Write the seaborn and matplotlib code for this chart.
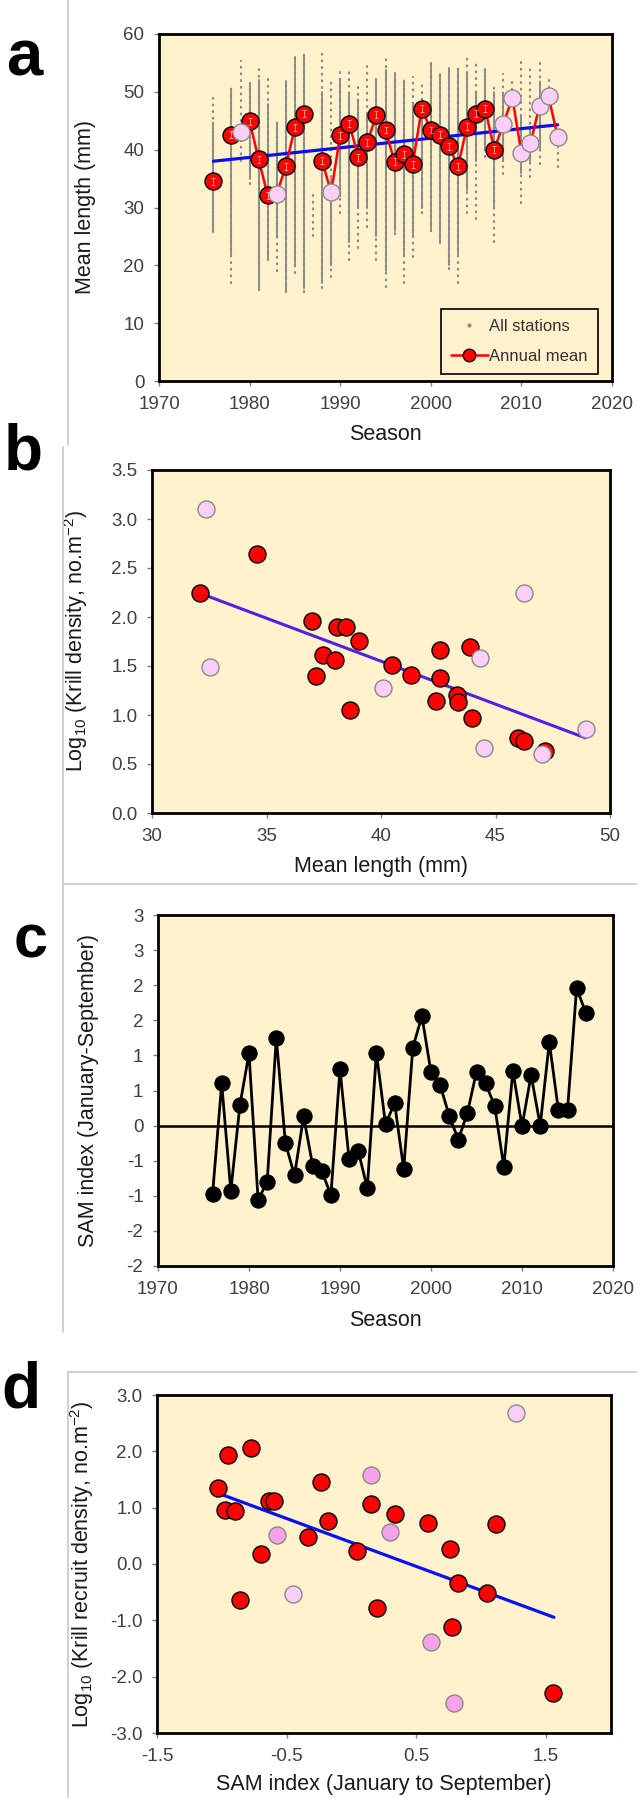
# Figura de 4 paneles: talla media, densidad de krill e indice SAM
import numpy as np
import pandas as pd
import matplotlib
matplotlib.use("Agg")
import matplotlib.pyplot as plt
import seaborn as sns
from matplotlib.lines import Line2D
from matplotlib.ticker import FuncFormatter, FormatStrFormatter, MultipleLocator

# ---------------- Datos panel a ----------------
anios_a = [1976, 1978, 1979, 1980, 1981, 1982, 1983, 1984, 1985, 1986,
           1988, 1989, 1990, 1991, 1992, 1993, 1994, 1995, 1996, 1997,
           1998, 1999, 2000, 2001, 2002, 2003, 2004, 2005, 2006, 2007,
           2008, 2009, 2010, 2011, 2012, 2013, 2014]
media_a = [34.5, 42.6, 43.0, 44.9, 38.3, 32.1, 32.4, 37.1, 43.9, 46.2,
           38.1, 32.6, 42.5, 44.5, 38.7, 41.3, 46.0, 43.4, 37.9, 39.2,
           37.5, 47.1, 43.4, 42.6, 40.6, 37.1, 44.0, 46.2, 47.1, 40.0,
           44.4, 49.0, 39.4, 41.1, 47.6, 49.2, 42.2]
grupo_a = ['r', 'r', 'p', 'r', 'r', 'r', 'p', 'r', 'r', 'r',
           'r', 'p', 'r', 'r', 'r', 'r', 'r', 'r', 'r', 'r',
           'r', 'r', 'r', 'r', 'r', 'r', 'r', 'r', 'r', 'r',
           'p', 'p', 'p', 'p', 'p', 'p', 'p']
tramo_a = [0] + [1] * 9 + [2] * 27
err_a = [0.6] * 37
tend_x_a = [1976, 2014]
tend_y_a = [38.0, 44.3]

# estaciones: rango total (puntos sueltos) y rango denso por temporada
est_anio = [1976, 1978, 1979, 1980, 1981, 1982, 1983, 1984, 1985, 1986,
            1987, 1988, 1989, 1990, 1991, 1992, 1993, 1994, 1995, 1996,
            1997, 1998, 1999, 2000, 2001, 2002, 2003, 2004, 2005, 2006,
            2007, 2008, 2009, 2010, 2011, 2012, 2013, 2014]
est_min = [25.8, 17.0, 38.0, 34.0, 15.7, 21.0, 19.0, 15.4, 18.6, 15.4,
           25.0, 16.0, 18.0, 29.0, 21.0, 23.0, 26.6, 21.0, 16.3, 25.5,
           16.9, 21.5, 29.0, 26.0, 23.8, 19.4, 16.9, 29.0, 28.0, 38.7,
           24.0, 35.8, 48.0, 30.7, 35.3, 37.6, 48.5, 37.0]
est_max = [49.0, 50.7, 55.4, 51.7, 54.2, 52.2, 45.0, 52.2, 56.3, 56.8,
           33.0, 56.8, 52.0, 54.0, 54.2, 51.0, 55.0, 52.2, 56.3, 53.4,
           52.2, 52.5, 52.0, 55.4, 53.4, 54.5, 54.2, 56.6, 54.8, 54.8,
           51.4, 53.0, 51.7, 55.4, 54.5, 55.0, 52.5, 42.0]
den_anio = [1976, 1978, 1980, 1981, 1982, 1983, 1984, 1985, 1986,
            1988, 1989, 1990, 1991, 1992, 1993, 1994, 1995, 1996, 1997,
            1998, 1999, 2000, 2001, 2002, 2003, 2004, 2005, 2006, 2007,
            2008, 2010, 2011, 2012]
den_min = [26, 22, 35, 16, 21, 25, 15.4, 20, 16,
           17, 20, 32, 24, 30, 30, 25, 19, 26, 22,
           25, 30, 26, 24, 20, 22, 33, 38, 40, 30,
           38, 36, 38, 40]
den_max = [45, 50.5, 51.5, 52, 48, 45, 52, 56, 56.8,
           50, 35, 52, 50, 49, 46, 52, 54, 53, 52,
           48, 49, 55, 53, 54, 54, 53, 50, 54, 50,
           50, 46, 44, 52]

# ---------------- Datos panel b ----------------
talla_b = [32.35, 34.57, 32.08, 32.53, 46.26, 36.98, 38.08, 38.47, 39.04, 37.46,
           38.00, 37.14, 38.65, 40.50, 41.30, 40.09, 42.58, 42.58, 43.90, 44.34,
           42.38, 43.31, 43.38, 43.99, 44.48, 45.98, 46.23, 47.14, 47.01, 48.97]
dens_b = [3.105, 2.64, 2.25, 1.485, 2.25, 1.96, 1.90, 1.90, 1.76, 1.61,
          1.566, 1.396, 1.049, 1.51, 1.41, 1.277, 1.66, 1.379, 1.696, 1.583,
          1.147, 1.205, 1.130, 0.967, 0.664, 0.766, 0.732, 0.637, 0.606, 0.861]
grupo_b = ['p', 'r', 'r', 'p', 'p', 'r', 'r', 'r', 'r', 'r',
           'r', 'r', 'r', 'r', 'r', 'p', 'r', 'r', 'r', 'p',
           'r', 'r', 'r', 'r', 'p', 'r', 'r', 'r', 'p', 'p']
tend_x_b = [32.35, 48.93]
tend_y_b = [2.22, 0.766]

# ---------------- Datos panel c ----------------
anios_c = list(range(1976, 2018))
sam_c = [-0.97, 0.60, -0.93, 0.29, 1.03, -1.06, -0.80, 1.25, -0.25, -0.71,
         0.13, -0.57, -0.65, -0.99, 0.80, -0.48, -0.36, -0.89, 1.04, 0.02,
         0.32, -0.62, 1.11, 1.56, 0.76, 0.58, 0.14, -0.20, 0.18, 0.77,
         0.60, 0.28, -0.59, 0.78, -0.01, 0.72, 0.00, 1.19, 0.22, 0.22,
         1.96, 1.61]

# ---------------- Datos panel d ----------------
sam_d = [-1.032, -0.950, -0.777, -0.975, -0.897, -0.633, -0.595, -0.576, -0.334, -0.696,
         -0.859, -0.451, -0.237, -0.180, 0.043, 0.146, 0.153, 0.193, 0.300, 0.335,
         0.586, 0.611, 0.759, 0.819, 0.775, 0.790, 1.045, 1.111, 1.265, 1.554]
recl_d = [1.343, 1.928, 2.062, 0.954, 0.942, 1.112, 1.112, 0.515, 0.485, 0.180,
          -0.642, -0.526, 1.459, 0.771, 0.229, 1.587, 1.057, -0.788, 0.564, 0.887,
          0.728, -1.379, 0.272, -0.337, -1.117, -2.463, -0.520, 0.716, 2.677, -2.298]
grupo_d = ['r', 'r', 'r', 'r', 'r', 'r', 'r', 'm', 'r', 'r',
           'r', 'p', 'r', 'r', 'r', 'm', 'r', 'r', 'm', 'r',
           'r', 'm', 'r', 'r', 'r', 'm', 'r', 'r', 'p', 'r']
tend_x_d = [-1.016, 1.560]
tend_y_d = [1.246, -0.946]

# Colores
fondo = '#FFF2CC'
rojo = '#FF0000'
rosa = '#FBCFF7'
rosa2 = '#F5A3E8'
azul = '#0A10F5'
morado = '#4F22E3'
gris_tick = '#404040'
gris_est = '#8a8a8a'

sns.set_style("ticks")
plt.rcParams['font.family'] = ['Liberation Sans', 'DejaVu Sans']
plt.rcParams['axes.unicode_minus'] = False
plt.rcParams['mathtext.fontset'] = 'custom'
plt.rcParams['mathtext.rm'] = 'Liberation Sans'
plt.rcParams['mathtext.it'] = 'Liberation Sans:italic'
plt.rcParams['mathtext.bf'] = 'Liberation Sans:bold'

W, H = 637, 1798
fig = plt.figure(figsize=(W / 100, H / 100), dpi=100)


def ejes(l, t, r, b):
    return fig.add_axes([l / W, 1 - b / H, (r - l) / W, (b - t) / H])


def estilo(ax, xl, yl, xlab, ylab, lx, ly):
    ax.set_facecolor(fondo)
    ax.set_xlim(*xl)
    ax.set_ylim(*yl)
    for s in ax.spines.values():
        s.set_visible(True)
        s.set_linewidth(2.0)
        s.set_color('black')
    ax.tick_params(direction='out', length=3.5, width=1, color='#808080',
                   labelsize=13.5, labelcolor=gris_tick, pad=7)
    ax.tick_params(top=False, right=False)
    ax.set_xlabel(xlab, fontsize=15.5, color='#1a1a1a')
    ax.set_ylabel(ylab, fontsize=15.5, color='#1a1a1a')
    ax.xaxis.set_label_coords(0.5, ly)
    ax.yaxis.set_label_coords(lx, 0.5)
    ax.grid(False)


# ---------------- Panel a ----------------
ax_a = ejes(159, 34, 612, 381)
df_a = pd.DataFrame({'anio': anios_a, 'media': media_a, 'grupo': grupo_a,
                     'tramo': tramo_a, 'err': err_a})
ax_a.vlines(est_anio, est_min, est_max, colors=gris_est, linestyles=(0, (0.4, 2.6)),
            lw=1.6, capstyle='round', zorder=1)
ax_a.vlines(den_anio, den_min, den_max, colors=gris_est, linestyles=(0, (0.4, 0.8)),
            lw=1.5, capstyle='round', zorder=1)
sns.lineplot(x=tend_x_a, y=tend_y_a, color=azul, lw=2.3, ax=ax_a, zorder=2)
sns.lineplot(data=df_a, x='anio', y='media', units='tramo', estimator=None,
             color=rojo, lw=1.8, ax=ax_a, zorder=3)
for g, c, ec in [('r', rojo, 'black'), ('p', rosa, '#8a8a8a')]:
    sub = df_a[df_a['grupo'] == g]
    sns.scatterplot(data=sub, x='anio', y='media', color=c, edgecolor=ec,
                    linewidth=1.0, s=150, ax=ax_a, zorder=4)
ax_a.errorbar(df_a['anio'], df_a['media'], yerr=df_a['err'], fmt='none',
              ecolor='#f4d4d4', elinewidth=0.6, capsize=1.3, capthick=0.6,
              alpha=0.8, zorder=5)
estilo(ax_a, (1970, 2020), (0, 60), 'Season', 'Mean length (mm)', -0.139, -0.125)
ax_a.xaxis.set_major_locator(MultipleLocator(10))
ax_a.yaxis.set_major_locator(MultipleLocator(10))
h_est = Line2D([], [], ls='none', marker='o', ms=2, color=gris_est)
h_med = Line2D([], [], color=rojo, lw=1.8, marker='o', ms=9,
               markerfacecolor=rojo, markeredgecolor='black')
leg = ax_a.legend([h_est, h_med], ['All stations', 'Annual mean'],
                  loc='lower right', bbox_to_anchor=(0.969, 0.02), borderaxespad=0,
                  fontsize=12, frameon=True, fancybox=False, handlelength=2.2,
                  handletextpad=0.1, labelspacing=0.9, borderpad=0.6)
leg.get_frame().set_edgecolor('black')
leg.get_frame().set_linewidth(1.2)
leg.get_frame().set_facecolor(fondo)
leg.get_frame().set_alpha(1)
for t in leg.get_texts():
    t.set_color('#333333')

# ---------------- Panel b ----------------
ax_b = ejes(152, 470, 610, 813)
df_b = pd.DataFrame({'talla': talla_b, 'dens': dens_b, 'grupo': grupo_b})
sns.lineplot(x=tend_x_b, y=tend_y_b, color=morado, lw=2.2, ax=ax_b, zorder=2)
for g, c, ec in [('r', rojo, 'black'), ('p', rosa, '#8a8a8a')]:
    sub = df_b[df_b['grupo'] == g]
    sns.scatterplot(data=sub, x='talla', y='dens', color=c, edgecolor=ec,
                    linewidth=1.0, s=150, ax=ax_b, zorder=4)
estilo(ax_b, (30, 50), (0, 3.5), 'Mean length (mm)',
       r'Log$_{\mathregular{10}}$ (Krill density, no.m$^{\mathregular{-2}}$)', -0.135, -0.125)
ax_b.xaxis.set_major_locator(MultipleLocator(5))
ax_b.yaxis.set_major_locator(MultipleLocator(0.5))
ax_b.yaxis.set_major_formatter(FormatStrFormatter('%.1f'))

# ---------------- Panel c ----------------
ax_c = ejes(158, 915, 613, 1266)
ax_c.axhline(0, color='black', lw=1.8, zorder=1)
sns.lineplot(x=anios_c, y=sam_c, color='black', lw=2.0, marker='o', ms=11,
             markeredgecolor='black', ax=ax_c, zorder=3)
estilo(ax_c, (1970, 2020), (-2, 3), 'Season', 'SAM index (January-September)', -0.13, -0.125)
ax_c.xaxis.set_major_locator(MultipleLocator(10))
ax_c.yaxis.set_major_locator(MultipleLocator(0.5))
ax_c.yaxis.set_major_formatter(FuncFormatter(
    lambda v, p: f"{int(np.sign(v) * np.floor(abs(v) + 0.5))}"))

# ---------------- Panel d ----------------
ax_d = ejes(157, 1395, 611, 1733)
df_d = pd.DataFrame({'sam': sam_d, 'recl': recl_d, 'grupo': grupo_d})
sns.lineplot(x=tend_x_d, y=tend_y_d, color=azul, lw=2.3, ax=ax_d, zorder=2)
for g, c, ec in [('r', rojo, 'black'), ('p', rosa, '#8a8a8a'), ('m', rosa2, '#8a8a8a')]:
    sub = df_d[df_d['grupo'] == g]
    sns.scatterplot(data=sub, x='sam', y='recl', color=c, edgecolor=ec,
                    linewidth=1.0, s=150, ax=ax_d, zorder=4)
estilo(ax_d, (-1.5, 2.0), (-3, 3), 'SAM index (January to September)',
       r'Log$_{\mathregular{10}}$ (Krill recruit density, no.m$^{\mathregular{-2}}$)', -0.135, -0.121)
ax_d.set_xticks([-1.5, -0.5, 0.5, 1.5])
ax_d.yaxis.set_major_locator(MultipleLocator(1))
ax_d.yaxis.set_major_formatter(FormatStrFormatter('%.1f'))

# ---------------- Letras y marcos ----------------
for letra, x, y, fs in [('a', 6, 75, 47), ('b', 4, 470, 46), ('c', 14, 957, 44), ('d', 1, 1408, 46)]:
    fig.text(x / W, 1 - y / H, letra, fontsize=fs, fontweight='bold', ha='left',
             va='baseline', color='black')


def linea(x0, y0, x1, y1):
    fig.add_artist(Line2D([x0 / W, x1 / W], [1 - y0 / H, 1 - y1 / H],
                          color='#c8c8c8', lw=1.2, transform=fig.transFigure))


linea(68, 0, 68, 445)
linea(63, 447, 63, 1332)
linea(63, 884, W, 884)
linea(68, 1372, 68, H)
linea(68, 1372, W, 1372)

fig.savefig('out.png', dpi=100)
